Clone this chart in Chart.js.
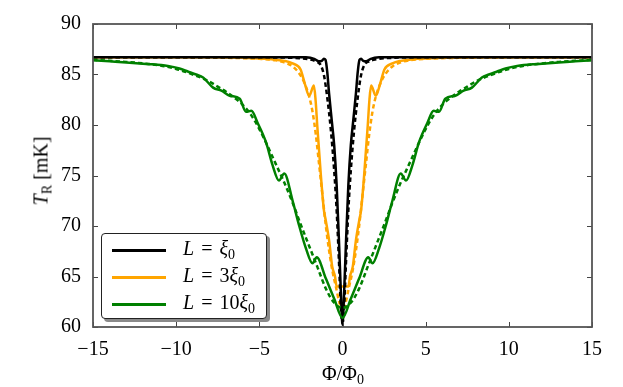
<!DOCTYPE html>
<html>
<head>
<meta charset="utf-8">
<script src="https://cdn.jsdelivr.net/npm/chart.js@4.4.1/dist/chart.umd.min.js"></script>
<style>
  body { margin: 0; background: #fff; }
  #wrap { position: relative; width: 623px; height: 387px; font-family: "Liberation Serif", serif; }
  #myChart { position: absolute; left: 0; top: 0; }
  .ytitle { position: absolute; left: 41px; top: 171px; transform: translate(-50%, -50%) rotate(-90deg); font-size: 20px; white-space: nowrap; }
  .xtitle { position: absolute; left: 343px; top: 362px; transform: translateX(-50%); font-size: 20px; white-space: nowrap; }
  .legend { position: absolute; left: 101px; top: 233px; width: 164px; height: 84px; border: 1.5px solid #222; border-radius: 4px; background: #fff; box-shadow: 3px 3px 0 #8a8a8a; }
  .row { position: absolute; left: 0; height: 27px; width: 164px; }
  .row .ln { position: absolute; left: 10px; width: 54px; height: 3px; top: 13px; }
  .row .tx { position: absolute; left: 81px; top: 1px; font-size: 20px; white-space: nowrap; word-spacing: 2px; }
  sub { font-size: 14px; vertical-align: -4px; line-height: 0; }
</style>
</head>
<body>
<div id="wrap">
<canvas id="myChart" width="623" height="387"></canvas>
<div class="ytitle"><i>T</i><sub>R</sub> [mK]</div>
<div class="xtitle">Φ/Φ<sub>0</sub></div>
<div class="legend">
  <div class="row" style="top:2px"><div class="ln" style="background:#000"></div><div class="tx"><i>L</i> = <i>ξ</i><sub>0</sub></div></div>
  <div class="row" style="top:29px"><div class="ln" style="background:#ffa500"></div><div class="tx"><i>L</i> = 3<i>ξ</i><sub>0</sub></div></div>
  <div class="row" style="top:56px"><div class="ln" style="background:#008000"></div><div class="tx"><i>L</i> = 10<i>ξ</i><sub>0</sub></div></div>
</div>
</div>
<script>
var xTicks = [-15, -10, -5, 0, 5, 10, 15];
var yTicks = [60, 65, 70, 75, 80, 85, 90];

// L = xi0
var blackX = [-15, -3, -2.2, -1.7, -1.42, -1.25, -1.12, -1.02, -0.92, -0.8, -0.65, -0.5, -0.35, -0.2, -0.1, 0,
              0.1, 0.2, 0.35, 0.5, 0.65, 0.8, 0.92, 1.02, 1.12, 1.25, 1.42, 1.7, 2.2, 3, 15];
var blackSolid = [86.72, 86.72, 86.7, 86.55, 86.3, 86.35, 86.55, 86.45, 85.3, 83.0, 80.5, 78.0, 74.0, 68.0, 63.5, 60.2,
                  63.5, 68.0, 74.0, 78.0, 80.5, 83.0, 85.3, 86.45, 86.55, 86.35, 86.3, 86.55, 86.7, 86.72, 86.72];
var blackDashX = [-15, -5, -3, -2, -1.6, -1.3, -1.1, -0.9, -0.7, -0.5, -0.35, -0.2, -0.1, 0,
                  0.1, 0.2, 0.35, 0.5, 0.7, 0.9, 1.1, 1.3, 1.6, 2, 3, 5, 15];
var blackDash = [86.72, 86.7, 86.65, 86.5, 86.3, 85.9, 84.8, 82.5, 79.5, 75.5, 71.5, 66.0, 62.0, 60.4,
                 62.0, 66.0, 71.5, 75.5, 79.5, 82.5, 84.8, 85.9, 86.3, 86.5, 86.65, 86.7, 86.72];

// L = 3 xi0
var orangeX = [-15, -8, -6, -4.5, -3.5, -3, -2.52, -2.25, -2, -1.72, -1.62, -1.52, -1.3, -1.12, -1, -0.8, -0.62, -0.45, -0.35, 0,
               0.35, 0.45, 0.62, 0.8, 1, 1.12, 1.3, 1.52, 1.62, 1.72, 2, 2.25, 2.52, 3, 3.5, 4.5, 6, 8, 15];
var orangeSolid = [86.72, 86.7, 86.65, 86.55, 86.35, 86.1, 85.5, 84.0, 82.9, 83.9, 82.5, 80.0, 75.0, 71.6, 70.5, 68.5, 66.0, 65.0, 64.0, 64.0,
                   64.0, 65.0, 66.0, 68.5, 70.5, 71.6, 75.0, 80.0, 82.5, 83.9, 82.9, 84.0, 85.5, 86.1, 86.35, 86.55, 86.65, 86.7, 86.72];
var orangeDashX = [-15, -10, -7, -5, -4, -3.5, -3, -2.6, -2.3, -2, -1.8, -1.6, -1.4, -1.2, -1, -0.8, -0.6, -0.4, -0.2, 0,
                   0.2, 0.4, 0.6, 0.8, 1, 1.2, 1.4, 1.6, 1.8, 2, 2.3, 2.6, 3, 3.5, 4, 5, 7, 10, 15];
var orangeDash = [86.72, 86.7, 86.65, 86.55, 86.4, 86.2, 85.8, 85.1, 84.2, 82.8, 81.3, 79.0, 76.0, 73.0, 70.0, 67.5, 65.5, 64.0, 62.5, 61.5,
                  62.5, 64.0, 65.5, 67.5, 70.0, 73.0, 76.0, 79.0, 81.3, 82.8, 84.2, 85.1, 85.8, 86.2, 86.4, 86.55, 86.65, 86.7, 86.72];

// L = 10 xi0
var greenX = [-15, -14, -13, -11.8, -10.5, -9.8, -9.3, -8.8, -8.38, -7.78, -7.28, -6.78, -6.18, -5.8, -5.48, -5.1, -4.6, -4.2, -3.82, -3.5, -3, -2.6, -2.2, -1.8, -1.55, -1, -0.5, 0,
              0.5, 1, 1.55, 1.8, 2.2, 2.6, 3, 3.5, 3.82, 4.2, 4.6, 5.1, 5.48, 5.8, 6.18, 6.78, 7.28, 7.78, 8.38, 8.8, 9.3, 9.8, 10.5, 11.8, 13, 14, 15];
var greenSolid = [86.4, 86.3, 86.2, 86.05, 85.85, 85.6, 85.3, 85.0, 84.7, 83.7, 83.4, 82.9, 82.6, 81.3, 81.4, 80.2, 78.3, 76.0, 74.5, 75.2, 72.5, 70.0, 67.8, 66.3, 66.9, 64.8, 62.8, 60.9,
                  62.8, 64.8, 66.9, 66.3, 67.8, 70.0, 72.5, 75.2, 74.5, 76.0, 78.3, 80.2, 81.4, 81.3, 82.6, 82.9, 83.4, 83.7, 84.7, 85.0, 85.3, 85.6, 85.85, 86.05, 86.2, 86.3, 86.4];
var greenDashX = [-15, -14, -13, -12, -11, -10, -9, -8, -7.5, -7, -6.5, -6, -5.5, -5, -4.5, -4, -3.5, -3, -2.5, -2, -1.5, -1, -0.5, 0,
                  0.5, 1, 1.5, 2, 2.5, 3, 3.5, 4, 4.5, 5, 5.5, 6, 6.5, 7, 7.5, 8, 9, 10, 11, 12, 13, 14, 15];
var greenDash = [86.45, 86.35, 86.25, 86.1, 85.9, 85.55, 85.0, 84.3, 83.8, 83.3, 82.7, 82.0, 81.0, 79.6, 77.9, 76.1, 74.3, 72.3, 70.1, 68.0, 65.9, 63.8, 62.4, 61.9,
                 62.4, 63.8, 65.9, 68.0, 70.1, 72.3, 74.3, 76.1, 77.9, 79.6, 81.0, 82.0, 82.7, 83.3, 83.8, 84.3, 85.0, 85.55, 85.9, 86.1, 86.25, 86.35, 86.45];

function pts(xs, ys) {
  var out = [];
  for (var i = 0; i < xs.length; i++) out.push({x: xs[i], y: ys[i]});
  return out;
}

function line(xs, ys, color, dashed, order) {
  return {
    data: pts(xs, ys),
    borderColor: color,
    borderWidth: 2.5,
    borderDash: dashed ? [4.5, 3] : [],
    pointRadius: 0,
    showLine: true,
    fill: false,
    cubicInterpolationMode: 'monotone',
    order: order
  };
}

// frame with inward ticks on all four sides
var frame = {
  id: 'frame',
  afterDraw: function(chart) {
    var c = chart.ctx, a = chart.chartArea;
    var sx = chart.scales.x, sy = chart.scales.y;
    c.save();
    c.strokeStyle = '#444';
    c.lineWidth = 1;
    xTicks.forEach(function(v) {
      var p = Math.round(sx.getPixelForValue(v)) + 0.5;
      c.beginPath();
      c.moveTo(p, a.bottom); c.lineTo(p, a.bottom - 5);
      c.moveTo(p, a.top); c.lineTo(p, a.top + 5);
      c.stroke();
    });
    yTicks.forEach(function(v) {
      var p = Math.round(sy.getPixelForValue(v)) + 0.5;
      c.beginPath();
      c.moveTo(a.left, p); c.lineTo(a.left + 5, p);
      c.moveTo(a.right, p); c.lineTo(a.right - 5, p);
      c.stroke();
    });
    c.lineWidth = 1.8;
    c.strokeStyle = '#555';
    c.strokeRect(a.left, a.top, a.right - a.left, a.bottom - a.top);
    c.restore();
  }
};

function minus(v) { return String(v).replace('-', '\u2212'); }

var ctx = document.getElementById('myChart');
var myChart = new Chart(ctx, {
  type: 'scatter',
  data: {
    datasets: [
      line(greenX, greenSolid, '#008000', false, 0),
      line(greenDashX, greenDash, '#008000', true, 1),
      line(blackX, blackSolid, '#000000', false, 2),
      line(blackDashX, blackDash, '#000000', true, 3),
      line(orangeX, orangeSolid, '#ffa500', false, 4),
      line(orangeDashX, orangeDash, '#ffa500', true, 5)
    ]
  },
  options: {
    responsive: false,
    animation: false,
    layout: { padding: { top: 16, right: 31, left: 0, bottom: 0 } },
    plugins: { legend: { display: false }, tooltip: { enabled: false } },
    scales: {
      x: {
        type: 'linear', min: -15, max: 15,
        afterBuildTicks: function(s) { s.ticks = xTicks.map(function(v) { return {value: v}; }); },
        afterFit: function(s) { s.height = 60; },
        grid: { display: false, drawTicks: false },
        border: { display: false },
        ticks: { color: '#000', padding: 11, maxRotation: 0, font: { family: 'Liberation Serif', size: 20 }, callback: minus }
      },
      y: {
        type: 'linear', min: 60, max: 90,
        afterBuildTicks: function(s) { s.ticks = yTicks.map(function(v) { return {value: v}; }); },
        afterFit: function(s) { s.width = 93; },
        grid: { display: false, drawTicks: false },
        border: { display: false },
        ticks: { color: '#000', padding: 12, font: { family: 'Liberation Serif', size: 20 }, callback: minus }
      }
    }
  },
  plugins: [frame]
});
</script>
</body>
</html>
